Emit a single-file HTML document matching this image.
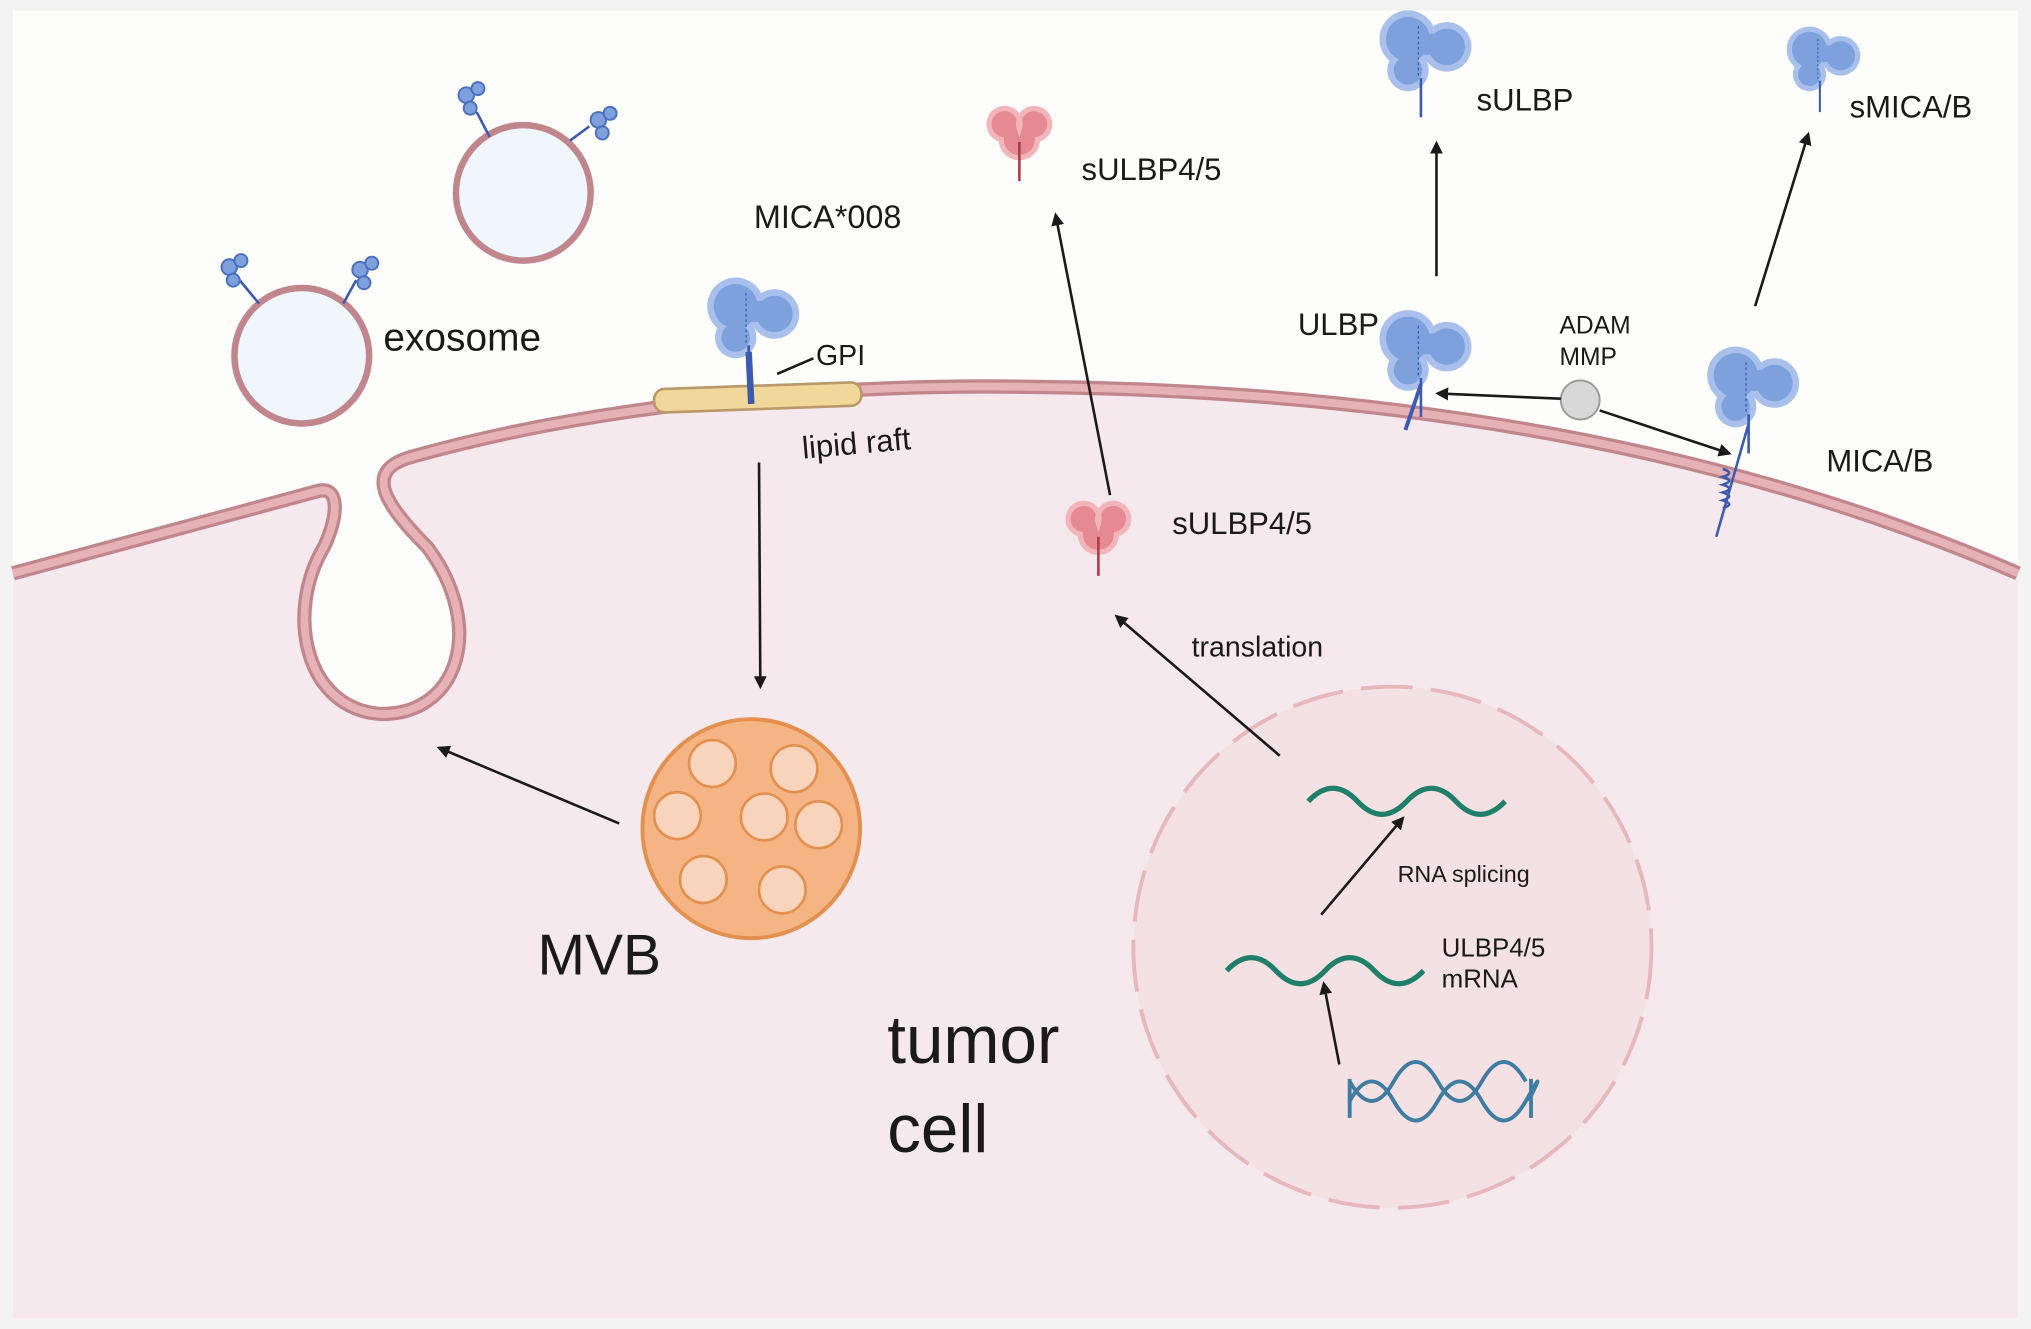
<!DOCTYPE html>
<html><head><meta charset="utf-8"><style>
html,body{margin:0;padding:0;background:#fff;}
svg{display:block;}
text{font-family:"Liberation Sans",sans-serif;fill:#1a1a1a;}
</style></head><body>
<svg width="2031" height="1329" viewBox="0 0 1568 1020" preserveAspectRatio="none" xmlns="http://www.w3.org/2000/svg">
<defs>
<marker id="ah" markerWidth="10" markerHeight="10" refX="8" refY="5" orient="auto" markerUnits="userSpaceOnUse" viewBox="0 0 10 10">
<path d="M0,0 L10,5 L0,10 z" fill="#1a1a1a"/></marker>
<g id="prot">
<g fill="#a9c0ec">
<circle cx="-10" cy="-30" r="22"/><circle cx="20" cy="-24" r="19"/><circle cx="-10" cy="-6" r="16"/>
</g>
<g fill="#7ea1dd">
<circle cx="-10" cy="-30" r="17"/><circle cx="20" cy="-24" r="14"/><circle cx="-10" cy="-6" r="11"/><rect x="-10" y="-34" width="28" height="16"/>
</g>
<path d="M-2,-40 l0,40" stroke="#3b5bb0" stroke-width="1" stroke-dasharray="2,2"/>
<line x1="0" y1="0" x2="0" y2="30" stroke="#3b5bb0" stroke-width="2"/>
</g>
<g id="sprot">
<path d="M-14,-8 a12,12 0 1 1 14,-8 a12,12 0 1 1 14,8 a14,14 0 0 1 -14,14 a14,14 0 0 1 -14,-14 z" fill="#e58a93" stroke="#f2b5ba" stroke-width="4"/>
<line x1="0" y1="-6" x2="0" y2="24" stroke="#b23a48" stroke-width="2"/>
</g>
<g id="mini">
<circle cx="0" cy="0" r="6" fill="#7ea1dd" stroke="#4a6fbe" stroke-width="1.5"/>
<circle cx="9" cy="-5" r="5" fill="#7ea1dd" stroke="#4a6fbe" stroke-width="1.5"/>
<circle cx="3" cy="10" r="5" fill="#7ea1dd" stroke="#4a6fbe" stroke-width="1.5"/>
</g>
</defs>
<rect x="0" y="0" width="1568" height="1020" fill="#f3f3f3"/>
<rect x="10" y="8" width="1548" height="1004" fill="#fdfdfb"/>
<path d="M10,440 L245,377 C262,372 262,395 250,420 C220,470 235,545 295,548 C355,548 375,480 330,420 C295,385 280,360 320,350 C500,300 700,295 800,297 C1100,300 1350,350 1558,440 L1558,1012 L10,1012 Z" fill="#f6e9ee"/>
<path d="M10,440 L245,377 C262,372 262,395 250,420 C220,470 235,545 295,548 C355,548 375,480 330,420 C295,385 280,360 320,350 C500,300 700,295 800,297 C1100,300 1350,350 1558,440" fill="none" stroke="#c1868c" stroke-width="11"/>
<path d="M10,440 L245,377 C262,372 262,395 250,420 C220,470 235,545 295,548 C355,548 375,480 330,420 C295,385 280,360 320,350 C500,300 700,295 800,297 C1100,300 1350,350 1558,440" fill="none" stroke="#e6b2b6" stroke-width="6"/>
<circle cx="233" cy="273" r="52" fill="#f1f6fd" stroke="#c1868c" stroke-width="5"/>
<circle cx="404" cy="148" r="52" fill="#f1f6fd" stroke="#c1868c" stroke-width="5"/>
<line x1="200" y1="233" x2="185" y2="215" stroke="#3b5bb0" stroke-width="2"/><use href="#mini" x="177" y="205"/>
<line x1="265" y1="233" x2="275" y2="215" stroke="#3b5bb0" stroke-width="2"/><use href="#mini" x="278" y="207"/>
<line x1="378" y1="105" x2="368" y2="86" stroke="#3b5bb0" stroke-width="2"/><use href="#mini" x="360" y="73"/>
<line x1="440" y1="108" x2="455" y2="97" stroke="#3b5bb0" stroke-width="2"/><use href="#mini" x="462" y="92"/>
<text x="296" y="269" font-size="30">exosome</text>
<rect x="505" y="296" width="160" height="18" rx="8" fill="#f1d89a" stroke="#b9996a" stroke-width="2" transform="rotate(-2 585 305)"/>
<use href="#prot" x="578" y="265"/>
<line x1="578" y1="270" x2="580" y2="310" stroke="#3b5bb0" stroke-width="5"/>
<line x1="600" y1="287" x2="628" y2="275" stroke="#1a1a1a" stroke-width="2"/>
<text x="630" y="280" font-size="22">GPI</text>
<text x="582" y="175" font-size="25">MICA*008</text>
<text x="620" y="352" font-size="24" transform="rotate(-5 620 352)">lipid raft</text>
<line x1="586" y1="355" x2="587" y2="527" stroke="#1a1a1a" stroke-width="2" marker-end="url(#ah)"/>
<circle cx="580" cy="636" r="84" fill="#f4b483" stroke="#e3904e" stroke-width="3"/>
<g fill="#f9d4bc" stroke="#e3904e" stroke-width="2">
<circle cx="550" cy="586" r="18"/><circle cx="613" cy="590" r="18"/><circle cx="523" cy="626" r="18"/>
<circle cx="590" cy="627" r="18"/><circle cx="632" cy="633" r="18"/><circle cx="543" cy="675" r="18"/><circle cx="604" cy="683" r="18"/>
</g>
<text x="415" y="748" font-size="44">MVB</text>
<line x1="478" y1="632" x2="339" y2="574" stroke="#1a1a1a" stroke-width="2" marker-end="url(#ah)"/>
<circle cx="1075" cy="727" r="200" fill="#f3e1e3" stroke="#e7b7bb" stroke-width="3" stroke-dasharray="40,14"/>
<path d="M1010,615 q19,-20 38,0 t38,0 t38,0 t38,0" fill="none" stroke="#1f7f6a" stroke-width="4"/>
<path d="M947,745 q19,-20 38,0 t38,0 t38,0 t38,0" fill="none" stroke="#1f7f6a" stroke-width="4"/>
<g stroke="#3f7ca2" stroke-width="3" fill="none">
<path d="M1042,845 q17,-30 34,0 t34,0 t34,0 t34,0 t2,0"/>
<path d="M1042,830 q17,30 34,0 t34,0 t34,0 t34,0"/>
<line x1="1042" y1="828" x2="1042" y2="858"/><line x1="1182" y1="828" x2="1182" y2="858"/>
</g>
<text x="1113" y="734" font-size="20">ULBP4/5</text>
<text x="1113" y="758" font-size="20">mRNA</text>
<text x="1079" y="677" font-size="18">RNA splicing</text>
<line x1="1034" y1="817" x2="1022" y2="755" stroke="#1a1a1a" stroke-width="2" marker-end="url(#ah)"/>
<line x1="1020" y1="702" x2="1083" y2="628" stroke="#1a1a1a" stroke-width="2" marker-end="url(#ah)"/>
<line x1="988" y1="580" x2="862" y2="473" stroke="#1a1a1a" stroke-width="2" marker-end="url(#ah)"/>
<text x="920" y="504" font-size="22">translation</text>
<text x="685" y="816" font-size="52">tumor</text>
<text x="685" y="884" font-size="52">cell</text>
<use href="#sprot" x="848" y="418"/>
<text x="905" y="410" font-size="24">sULBP4/5</text>
<line x1="857" y1="380" x2="815" y2="165" stroke="#1a1a1a" stroke-width="2" marker-end="url(#ah)"/>
<use href="#sprot" x="787" y="115"/>
<text x="835" y="138" font-size="24">sULBP4/5</text>
<use href="#prot" x="1097" y="290"/>
<line x1="1097" y1="295" x2="1085" y2="330" stroke="#3b5bb0" stroke-width="3"/>
<text x="1002" y="257" font-size="24">ULBP</text>
<line x1="1109" y1="212" x2="1109" y2="110" stroke="#1a1a1a" stroke-width="2" marker-end="url(#ah)"/>
<use href="#prot" x="1097" y="60"/>
<text x="1140" y="85" font-size="24">sULBP</text>
<use href="#prot" x="1350" y="318"/>
<line x1="1350" y1="325" x2="1325" y2="412" stroke="#3b5bb0" stroke-width="2"/>
<path d="M1330,360 q10,3 0,6 q10,3 0,6 q10,3 0,6 q10,3 0,6 q10,3 0,6" fill="none" stroke="#3b5bb0" stroke-width="2"/>
<text x="1410" y="362" font-size="24">MICA/B</text>
<line x1="1355" y1="235" x2="1396" y2="103" stroke="#1a1a1a" stroke-width="2" marker-end="url(#ah)"/>
<g transform="translate(1405,62) scale(0.8)"><use href="#prot"/></g>
<text x="1428" y="90" font-size="24">sMICA/B</text>
<circle cx="1220" cy="307" r="15" fill="#d8d8d8" stroke="#9a9a9a" stroke-width="1.5"/>
<text x="1204" y="256" font-size="19">ADAM</text>
<text x="1204" y="280" font-size="19">MMP</text>
<line x1="1205" y1="306" x2="1110" y2="302" stroke="#1a1a1a" stroke-width="2" marker-end="url(#ah)"/>
<line x1="1235" y1="315" x2="1335" y2="348" stroke="#1a1a1a" stroke-width="2" marker-end="url(#ah)"/>
</svg>
</body></html>
